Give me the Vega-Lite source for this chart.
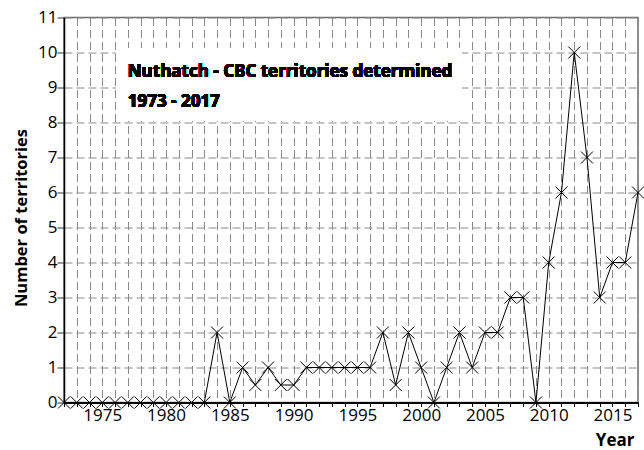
{
  "$schema": "https://vega.github.io/schema/vega-lite/v6.json",
  "width": 574,
  "height": 385,
  "autosize": {"type": "none"},
  "padding": {"left": 64, "top": 17.5, "right": 6, "bottom": 47.5},
  "background": "white",
  "config": {
    "view": {"stroke": "#6e6e6e", "strokeWidth": 1.5},
    "font": "Open Sans"
  },
  "data": {
    "values": [
      {"year": 1972, "territories": 0},
      {"year": 1973, "territories": 0},
      {"year": 1974, "territories": 0},
      {"year": 1975, "territories": 0},
      {"year": 1976, "territories": 0},
      {"year": 1977, "territories": 0},
      {"year": 1978, "territories": 0},
      {"year": 1979, "territories": 0},
      {"year": 1980, "territories": 0},
      {"year": 1981, "territories": 0},
      {"year": 1982, "territories": 0},
      {"year": 1983, "territories": 0},
      {"year": 1984, "territories": 2},
      {"year": 1985, "territories": 0},
      {"year": 1986, "territories": 1},
      {"year": 1987, "territories": 0.5},
      {"year": 1988, "territories": 1},
      {"year": 1989, "territories": 0.5},
      {"year": 1990, "territories": 0.5},
      {"year": 1991, "territories": 1},
      {"year": 1992, "territories": 1},
      {"year": 1993, "territories": 1},
      {"year": 1994, "territories": 1},
      {"year": 1995, "territories": 1},
      {"year": 1996, "territories": 1},
      {"year": 1997, "territories": 2},
      {"year": 1998, "territories": 0.5},
      {"year": 1999, "territories": 2},
      {"year": 2000, "territories": 1},
      {"year": 2001, "territories": 0},
      {"year": 2002, "territories": 1},
      {"year": 2003, "territories": 2},
      {"year": 2004, "territories": 1},
      {"year": 2005, "territories": 2},
      {"year": 2006, "territories": 2},
      {"year": 2007, "territories": 3},
      {"year": 2008, "territories": 3},
      {"year": 2009, "territories": 0},
      {"year": 2010, "territories": 4},
      {"year": 2011, "territories": 6},
      {"year": 2012, "territories": 10},
      {"year": 2013, "territories": 7},
      {"year": 2014, "territories": 3},
      {"year": 2015, "territories": 4},
      {"year": 2016, "territories": 4},
      {"year": 2017, "territories": 6}
    ]
  },
  "encoding": {
    "x": {
      "field": "year",
      "type": "quantitative",
      "scale": {"domain": [1972, 2017], "nice": false, "zero": false},
      "axis": {
        "title": "Year",
        "titleFont": "Open Sans",
        "titleFontSize": 17,
        "titleFontWeight": "bold",
        "titleColor": "black",
        "titleAnchor": "end",
        "titleAlign": "right",
        "titleBaseline": "alphabetic",
        "titleX": 570,
        "titleY": 43,
        "values": [1972,1973,1974,1975,1976,1977,1978,1979,1980,1981,1982,1983,1984,1985,1986,1987,1988,1989,1990,1991,1992,1993,1994,1995,1996,1997,1998,1999,2000,2001,2002,2003,2004,2005,2006,2007,2008,2009,2010,2011,2012,2013,2014,2015,2016,2017],
        "format": "d",
        "labelExpr": "datum.value % 5 === 0 ? datum.label : ''",
        "labelFont": "Open Sans",
        "labelFontSize": 17,
        "labelColor": "black",
        "labelPadding": 1,
        "labelFlush": false,
        "labelOverlap": false,
        "tickColor": "black",
        "tickSize": 4,
        "domainColor": "black",
        "domainWidth": 2,
        "grid": true,
        "gridColor": "#8a8a8a",
        "gridDash": [8, 4],
        "gridWidth": 1
      }
    },
    "y": {
      "field": "territories",
      "type": "quantitative",
      "scale": {"domain": [0, 11], "nice": false},
      "axis": {
        "title": "Number of territories",
        "titleFont": "Open Sans",
        "titleFontSize": 16.5,
        "titleFontWeight": "bold",
        "titleColor": "black",
        "titleX": -43,
        "titleY": 200,
        "titleAngle": -90,
        "titleAlign": "center",
        "titleBaseline": "middle",
        "values": [0,0.5,1,1.5,2,2.5,3,3.5,4,4.5,5,5.5,6,6.5,7,7.5,8,8.5,9,9.5,10,10.5,11],
        "format": "d",
        "labelExpr": "datum.value % 1 === 0 ? format(datum.value, 'd') : ''",
        "labelFont": "Open Sans",
        "labelFontSize": 17,
        "labelColor": "black",
        "labelPadding": 0,
        "labelFlush": false,
        "labelOverlap": false,
        "tickColor": "#333",
        "tickSize": {"condition": {"test": "datum.value % 1 !== 0", "value": 3}, "value": 7},
        "domainColor": "black",
        "domainWidth": 1.5,
        "grid": true,
        "gridColor": "#8a8a8a",
        "gridDash": [8, 4],
        "gridWidth": 1,
        "gridOpacity": {"condition": {"test": "datum.value % 1 !== 0", "value": 0}, "value": 1}
      }
    }
  },
  "layer": [
    {
      "mark": {"type": "rect", "color": "white"},
      "encoding": {
        "x": {"datum": 1976.1},
        "x2": {"datum": 2003.15},
        "y": {"datum": 10.13},
        "y2": {"datum": 8.05}
      }
    },
    {
      "mark": {"type": "line", "color": "black", "strokeWidth": 1}
    },
    {
      "mark": {
        "type": "point",
        "shape": "M-1,-1L1,1M-1,1L1,-1",
        "filled": false,
        "stroke": "black",
        "strokeWidth": 1,
        "size": 144,
        "opacity": 1
      }
    },
    {
      "mark": {"type": "text", "align": "left", "baseline": "alphabetic", "font": "Open Sans", "fontSize": 17, "fontWeight": "bold", "fill": "black", "text": "Nuthatch - CBC territories determined"},
      "encoding": {
        "x": {"datum": 1977},
        "y": {"datum": 9.31}
      }
    },
    {
      "mark": {"type": "text", "align": "left", "baseline": "alphabetic", "font": "Open Sans", "fontSize": 17, "fontWeight": "bold", "fill": "black", "text": "1973 - 2017"},
      "encoding": {
        "x": {"datum": 1977},
        "y": {"datum": 8.45}
      }
    }
  ]
}
